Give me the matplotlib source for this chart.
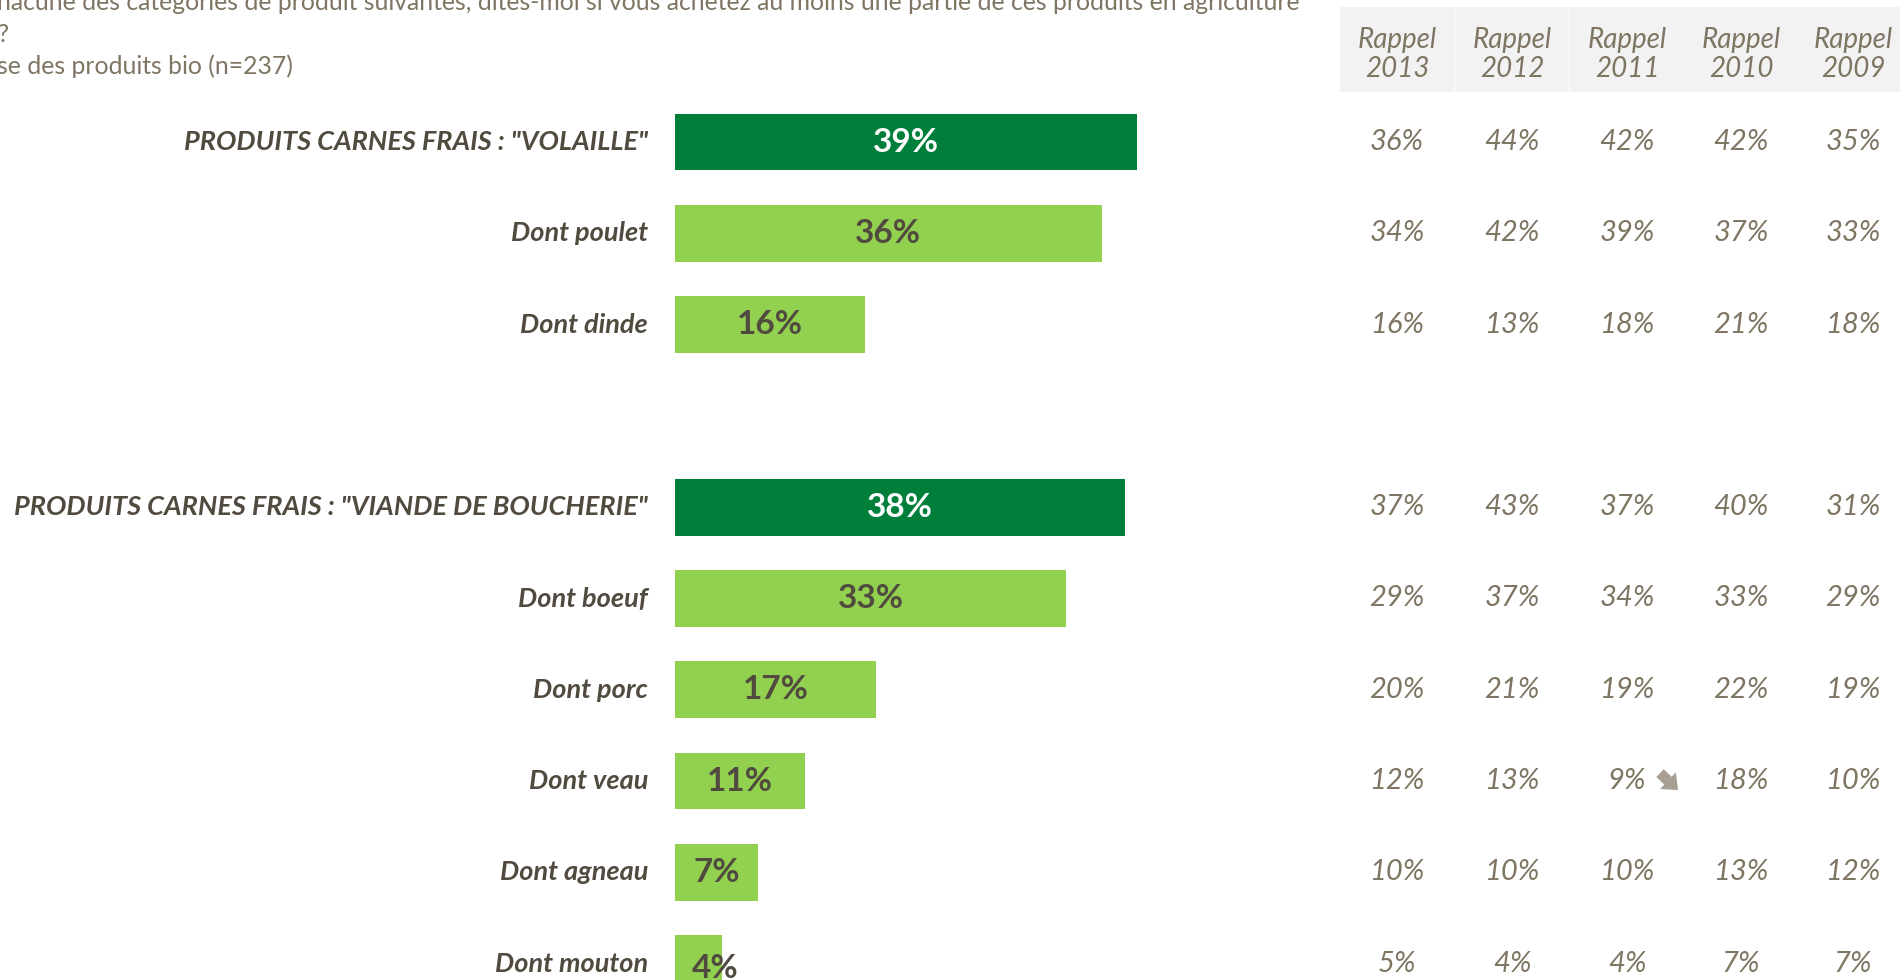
import matplotlib
matplotlib.use("Agg")
import matplotlib.pyplot as plt
from matplotlib.transforms import blended_transform_factory
from matplotlib.patches import Rectangle

# ---- data ----
categories = ['PRODUITS CARNES FRAIS : "VOLAILLE"', 'Dont poulet', 'Dont dinde', '',
              'PRODUITS CARNES FRAIS : "VIANDE DE BOUCHERIE"', 'Dont boeuf', 'Dont porc',
              'Dont veau', 'Dont agneau', 'Dont mouton']
values = [39, 36, 16, None, 38, 33, 17, 11, 7, 4]
is_total = [True, False, False, False, True, False, False, False, False, False]
years = ['2013', '2012', '2011', '2010', '2009']
rappel_2013 = [36, 34, 16, None, 37, 29, 20, 12, 10, 5]
rappel_2012 = [44, 42, 13, None, 43, 37, 21, 13, 10, 4]
rappel_2011 = [42, 39, 18, None, 37, 34, 19, 9, 10, 4]
rappel_2010 = [42, 37, 21, None, 40, 33, 22, 18, 13, 7]
rappel_2009 = [35, 33, 18, None, 31, 29, 19, 10, 12, 7]
rappels = [rappel_2013, rappel_2012, rappel_2011, rappel_2010, rappel_2009]
down_arrows = [(2, 7)]  # (column index, row index) significant decrease
title_lines = ["hacune des catégories de produit suivantes, dites-moi si vous achetez au moins une partie de ces produits en agriculture",
               "?",
               "se des produits bio (n=237)"]

# ---- style ----
W, H = 1900, 980
DARK = '#007F3A'
LIGHT = '#92D050'
TXT = '#514A3F'
GREY = '#7F7563'
plt.rcParams['font.family'] = ['Lato', 'DejaVu Sans']

fig = plt.figure(figsize=(W / 100, H / 100), dpi=100)
fig.patch.set_facecolor('white')

bar_left = 675
px_per_pct = 11.85
row0 = 142
row_step = 91.3
ax_w = 600
ax = fig.add_axes([bar_left / W, 0, ax_w / W, 1])
ax.set_xlim(0, ax_w / px_per_pct)
ax.set_ylim((H - row0) / row_step, -row0 / row_step)
ax.axis('off')

for i, (cat, v) in enumerate(zip(categories, values)):
    if v is None:
        continue
    col = DARK if is_total[i] else LIGHT
    ax.barh(i, v, height=0.62, color=col, left=0)
    xl = max(v / 2, 3.4)
    yl = i if v > 5 else i + 0.05
    ax.text(xl, yl, f"{v}%", ha='center', va='center', fontsize=24, fontweight='bold',
            color='white' if is_total[i] else TXT)

trans = blended_transform_factory(fig.transFigure, ax.transData)
for i, cat in enumerate(categories):
    if cat:
        ax.text(648 / W, i, cat, transform=trans, ha='right', va='center', fontsize=19.5,
                fontweight='bold', fontstyle='italic', color=TXT)

# table
col_centers = [1397, 1512, 1627, 1741, 1853]
box_w = 114
for j, (yr, data) in enumerate(zip(years, rappels)):
    cx = col_centers[j]
    fig.patches.append(Rectangle(((cx - box_w / 2) / W, 1 - 92 / H), box_w / W, 85 / H,
                                 transform=fig.transFigure, facecolor='#F2F2F2',
                                 edgecolor='none', zorder=0))
    fig.text(cx / W, 1 - 40 / H, "Rappel", ha='center', va='center', fontsize=20,
             fontstyle='italic', color=GREY)
    fig.text(cx / W, 1 - 69 / H, yr, ha='center', va='center', fontsize=20,
             fontstyle='italic', color=GREY)
    for i, v in enumerate(data):
        if v is None:
            continue
        ax.text(cx / W, i, f"{v}%", transform=trans, ha='center', va='center', fontsize=21,
                fontstyle='italic', color=GREY)

for (j, i) in down_arrows:
    x0 = (col_centers[j] + 33) / W
    ax.annotate('', xy=(x0 + 18 / W, i + 9 / row_step), xytext=(x0, i - 8 / row_step),
                xycoords=trans, textcoords=trans,
                arrowprops=dict(arrowstyle='simple,head_length=0.45,head_width=0.75,tail_width=0.35',
                                color='#A69F92', lw=0, mutation_scale=22, shrinkA=0, shrinkB=0))

# title lines
for k, line in enumerate(title_lines):
    fig.text(-3 / W, 1 - (3 + 31.5 * k) / H, line, ha='left', va='center', fontsize=17.8,
             color=GREY)

fig.savefig('out.png', dpi=100, facecolor='white')
